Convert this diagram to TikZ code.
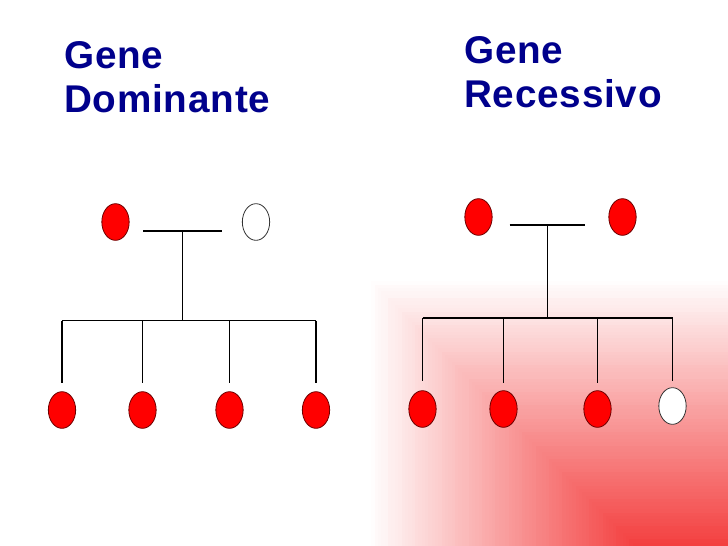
\documentclass[tikz,border=0pt]{standalone}
\usepackage{fontspec}
\setmainfont{Liberation Sans}
\usetikzlibrary{shapes.geometric}
\definecolor{navy}{RGB}{0,0,140}
\definecolor{gcorner}{RGB}{243,62,62}
\definecolor{ballred}{RGB}{255,0,0}
\definecolor{ballrim}{RGB}{110,0,0}
\begin{document}
\begin{tikzpicture}[x=0.75pt,y=-0.75pt,
  title/.style={anchor=base west, inner sep=0pt, text=navy,
    font=\fontsize{29}{33}\selectfont\bfseries\addfontfeature{LetterSpace=2}},
  redball/.style={ellipse, draw=ballrim, fill=ballred, line width=0.6pt,
    inner sep=0pt, minimum width=20.5pt, minimum height=27.5pt},
  whiteball/.style={ellipse, draw=black!80, fill=white, line width=0.6pt,
    inner sep=0pt, minimum width=20.5pt, minimum height=27.5pt},
  link/.style={draw=black, line width=1pt}]
\useasboundingbox (0,0) rectangle (728,546);
\fill[white] (0,0) rectangle (728,546);
% corner gradient (bottom right): nested squares-based levels
\foreach \i in {0,...,79}{
  \pgfmathsetmacro\t{\i/80}
  \pgfmathtruncatemacro\p{100*(\i+0.5)/80}
  \fill[gcorner!\p!white] ({368+268*\t},{278+268*\t}) rectangle (728,546);
}
% titles
\node[title] (t1) at (64,68) {Gene};
\node[title] (t2) at (64,112.5) {Dominante};
\node[title] (t3) at (464,63.5) {Gene};
\node[title] (t4) at (464,107.5) {Recessivo};

% ---------- left tree ----------
\node[redball]   (lp1) at (115.5,222) {};
\node[whiteball] (lp2) at (256,222) {};
\node[redball] (lc1) at (62,410) {};
\node[redball] (lc2) at (142.5,410) {};
\node[redball] (lc3) at (229.5,410) {};
\node[redball] (lc4) at (316,410) {};
\coordinate (lh1) at (143,231);
\coordinate (lh2) at (222,231);
\coordinate (lm)  at (182.5,231);
\coordinate (lb)  at (182.5,320.5);
\coordinate (lb1) at (62,320.5);
\coordinate (lb4) at (316,320.5);
\coordinate (ld1) at (62,320.5);
\coordinate (ld2) at (142.5,320.5);
\coordinate (ld3) at (229.5,320.5);
\coordinate (ld4) at (316,320.5);
\coordinate (le1) at (62,383);
\coordinate (le2) at (142.5,383);
\coordinate (le3) at (229.5,383);
\coordinate (le4) at (316,383);
\draw[link] (lh1) -- (lh2);
\draw[link] (lm) -- (lb);
\draw[link] (lb1) -- (lb4);
\draw[link] (ld1) -- (le1);
\draw[link] (ld2) -- (le2);
\draw[link] (ld3) -- (le3);
\draw[link] (ld4) -- (le4);

% ---------- right tree ----------
\node[redball] (rp1) at (478.5,217) {};
\node[redball] (rp2) at (622.5,217) {};
\node[redball]   (rc1) at (422.5,409) {};
\node[redball]   (rc2) at (503.5,409) {};
\node[redball]   (rc3) at (597.5,409) {};
\node[whiteball] (rc4) at (672.5,406) {};
\coordinate (rh1) at (509.5,225);
\coordinate (rh2) at (584.5,225);
\coordinate (rm)  at (547.5,225);
\coordinate (rb)  at (547.5,318);
\coordinate (rb1) at (422.5,318);
\coordinate (rb4) at (672.5,318);
\coordinate (rd1) at (422.5,318);
\coordinate (rd2) at (503.5,318);
\coordinate (rd3) at (597.5,318);
\coordinate (rd4) at (672.5,318);
\coordinate (re1) at (422.5,381);
\coordinate (re2) at (503.5,383);
\coordinate (re3) at (597.5,383);
\coordinate (re4) at (672.5,381);
\draw[link] (rh1) -- (rh2);
\draw[link] (rm) -- (rb);
\draw[link] (rb1) -- (rb4);
\draw[link] (rd1) -- (re1);
\draw[link] (rd2) -- (re2);
\draw[link] (rd3) -- (re3);
\draw[link] (rd4) -- (re4);
\end{tikzpicture}
\end{document}
